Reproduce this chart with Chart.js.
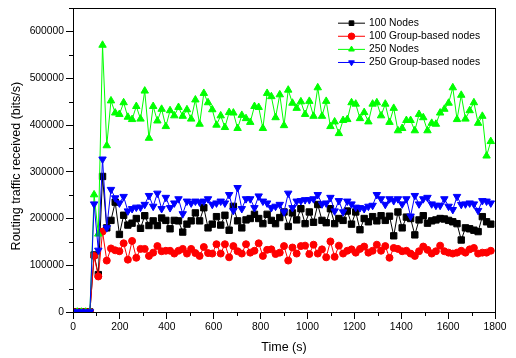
<!DOCTYPE html>
<html>
<head>
<meta charset="utf-8">
<script src="https://cdn.jsdelivr.net/npm/chart.js@4/dist/chart.umd.min.js"></script>
<style>
html,body{margin:0;padding:0;background:#fff;}
#wrap{width:516px;height:358px;}
</style>
</head>
<body>
<div id="wrap"><canvas id="c" width="516" height="358"></canvas></div>
<script>
const time = [0,18,36,54,72,90,108,126,144,162,180,198,216,234,252,270,288,306,324,342,
360,378,396,414,432,450,468,486,504,522,540,558,576,594,612,630,648,666,684,702,
720,738,756,774,792,810,828,846,864,882,900,918,936,954,972,990,1008,1026,1044,1062,
1080,1098,1116,1134,1152,1170,1188,1206,1224,1242,1260,1278,1296,1314,1332,1350,1368,1386,1404,1422,
1440,1458,1476,1494,1512,1530,1548,1566,1584,1602,1620,1638,1656,1674,1692,1710,1728,1746,1764,1782];

const nodes100 = [0,0,0,0,0,122000,80000,290000,180000,196000,
235000,166000,207000,186000,190000,200000,179000,206000,185000,195000,
185000,201000,196000,178000,196000,195000,171000,188000,195000,212000,
195000,223000,180000,188000,204000,186000,207000,175000,226000,195000,
180000,197000,200000,209000,200000,189000,209000,196000,189000,202000,
214000,183000,212000,197000,221000,189000,214000,192000,230000,196000,
191000,221000,189000,200000,196000,216000,188000,214000,176000,200000,
193000,204000,195000,206000,196000,205000,163000,214000,180000,203000,
200000,165000,197000,206000,190000,195000,197000,200000,199000,196000,
193000,189000,154000,180000,178000,175000,172000,204000,193000,188000];

const group100 = [0,0,0,0,0,120000,76000,172000,110000,136000,
132000,130000,147000,112000,152000,116000,135000,135000,120000,127000,
141000,130000,131000,131000,125000,131000,135000,125000,135000,126000,
120000,139000,126000,125000,145000,125000,145000,117000,141000,130000,
125000,145000,127000,131000,147000,120000,133000,134000,124000,127000,
141000,110000,138000,125000,141000,142000,124000,144000,125000,134000,
117000,151000,118000,142000,125000,131000,134000,127000,135000,140000,
127000,131000,144000,131000,141000,116000,137000,135000,130000,131000,
125000,120000,130000,140000,133000,125000,130000,142000,130000,127000,
125000,127000,131000,127000,134000,137000,125000,127000,127000,131000];

const nodes250 = [0,0,0,0,0,251000,167000,571000,356000,452000,
426000,423000,448000,417000,412000,440000,413000,473000,372000,440000,
409000,434000,397000,431000,420000,438000,419000,433000,413000,454000,
402000,468000,448000,433000,400000,420000,395000,427000,426000,393000,
421000,414000,406000,440000,438000,393000,468000,461000,416000,465000,
399000,475000,447000,436000,450000,423000,451000,419000,480000,419000,
451000,397000,407000,382000,410000,412000,448000,445000,414000,427000,
407000,445000,448000,420000,445000,406000,436000,388000,393000,410000,
410000,388000,423000,416000,388000,404000,402000,426000,434000,447000,
480000,412000,464000,413000,431000,448000,404000,419000,334000,365000];

const group250 = [0,0,0,0,0,231000,132000,327000,180000,262000,
244000,233000,247000,216000,221000,224000,224000,230000,249000,226000,
254000,221000,245000,223000,233000,242000,210000,237000,233000,237000,
235000,237000,242000,230000,233000,237000,233000,251000,217000,266000,
221000,242000,242000,223000,248000,237000,233000,223000,226000,230000,
214000,254000,223000,237000,238000,240000,240000,242000,251000,231000,
233000,245000,216000,238000,214000,237000,231000,224000,223000,221000,
226000,228000,251000,242000,230000,242000,238000,242000,231000,242000,
205000,249000,231000,242000,245000,231000,228000,228000,242000,226000,
219000,247000,230000,231000,233000,231000,217000,238000,237000,233000];

const seriesNames = ['100 Nodes','100 Group-based nodes','250 Nodes','250 Group-based nodes'];
const xTickValues = [0,200,400,600,800,1000,1200,1400,1600,1800];
const yTickValues = [0,100000,200000,300000,400000,500000,600000];
const xTitle = 'Time (s)';
const yTitle = 'Routing traffic received (bits/s)';

const FONT = '"Liberation Sans", Arial, Helvetica, sans-serif';
Chart.defaults.font.family = FONT;
Chart.defaults.color = '#000';

function pts(arr){ return time.map((t,i)=>({x:t, y:arr[i]})); }

function ds(label, arr, color, style, rot, radius, order){
  return {label, data: pts(arr), borderColor: color, backgroundColor: color,
    borderWidth: 1, pointStyle: style, pointRotation: rot, pointRadius: radius,
    pointBorderWidth: 1, pointBorderColor: color, pointBackgroundColor: color,
    tension: 0, order};
}

const framePlugin = {
  id: 'frame',
  afterDatasetsDraw(chart){
    const ctx = chart.ctx, a = chart.chartArea;
    const xs = chart.scales.x, ys = chart.scales.y;
    ctx.save();
    ctx.strokeStyle = '#000'; ctx.lineWidth = 1;
    ctx.strokeRect(Math.round(a.left)+0.5, Math.round(a.top)+0.5, Math.round(a.right-a.left), Math.round(a.bottom-a.top));
    ctx.beginPath();
    for (let k = 0; k < yTickValues.length; k++){
      const y = Math.round(ys.getPixelForValue(yTickValues[k] + 50000)) + 0.5;
      ctx.moveTo(a.left - 4, y); ctx.lineTo(a.left, y);
    }
    for (let k = 0; k < xTickValues.length - 1; k++){
      const x = Math.round(xs.getPixelForValue(xTickValues[k] + 100)) + 0.5;
      ctx.moveTo(x, a.bottom); ctx.lineTo(x, a.bottom + 4);
    }
    ctx.stroke();
    // y axis title
    ctx.fillStyle = '#000';
    ctx.font = '12.5px ' + FONT;
    ctx.translate(17, (a.top + a.bottom) / 2 + 6);
    ctx.rotate(-Math.PI / 2);
    ctx.textAlign = 'center'; ctx.textBaseline = 'middle';
    ctx.fillText(yTitle, 0, 0);
    ctx.restore();
  }
};

const legendPlugin = {
  id: 'lineLegend',
  afterDraw(chart){
    const ctx = chart.ctx, a = chart.chartArea;
    const x0 = a.right - 157, x1 = a.right - 130, tx = a.right - 126;
    chart.data.datasets.forEach((d, k) => {
      const y = a.top + 15 + k * 13.1;
      ctx.save();
      ctx.strokeStyle = d.borderColor; ctx.lineWidth = 1;
      ctx.beginPath(); ctx.moveTo(x0, y); ctx.lineTo(x1, y); ctx.stroke();
      ctx.fillStyle = d.backgroundColor; ctx.strokeStyle = d.borderColor;
      Chart.helpers.drawPoint(ctx, {pointStyle: d.pointStyle, rotation: d.pointRotation || 0, radius: 3.3, borderWidth: 1}, (x0 + x1) / 2, y);
      ctx.fillStyle = '#000';
      ctx.font = '10.3px ' + FONT;
      ctx.textBaseline = 'middle'; ctx.textAlign = 'left';
      ctx.fillText(d.label, tx, y);
      ctx.restore();
    });
  }
};

new Chart(document.getElementById('c'), {
  type: 'line',
  data: {
    datasets: [
      ds(seriesNames[0], nodes100, '#000000', 'rect', 0, 4.5, 4),
      ds(seriesNames[1], group100, '#ff0000', 'circle', 0, 3.5, 3),
      ds(seriesNames[2], nodes250, '#00ff00', 'triangle', 0, 4.3, 2),
      ds(seriesNames[3], group250, '#0000ff', 'triangle', 180, 4.3, 1)
    ]
  },
  options: {
    responsive: false,
    devicePixelRatio: 1,
    animation: false,
    layout: { padding: { left: 0, right: 21, top: 5, bottom: 0 } },
    plugins: { legend: { display: false }, tooltip: { enabled: false } },
    scales: {
      x: {
        type: 'linear', min: 0, max: 1800,
        afterBuildTicks: s => { s.ticks = xTickValues.map(v => ({ value: v })); },
        ticks: { autoSkip: false, font: { size: 10.3 }, color: '#000', padding: 2, maxRotation: 0,
                 callback: v => String(v) },
        grid: { drawOnChartArea: false, tickLength: 7, tickColor: '#000', tickWidth: 1 },
        border: { color: '#000', width: 1 },
        title: { display: true, text: xTitle, font: { size: 12.5 }, color: '#000', padding: { top: 0, bottom: 3 } },
        afterFit: s => { s.height = 46; }
      },
      y: {
        min: 0, max: 650000,
        afterBuildTicks: s => { s.ticks = yTickValues.map(v => ({ value: v })); },
        ticks: { autoSkip: false, font: { size: 10.3 }, color: '#000', padding: 2,
                 callback: v => String(v) },
        grid: { drawOnChartArea: false, tickLength: 7, tickColor: '#000', tickWidth: 1 },
        border: { color: '#000', width: 1 },
        title: { display: false },
        afterFit: s => { s.width = 73; }
      }
    }
  },
  plugins: [framePlugin, legendPlugin]
});
</script>
</body>
</html>
